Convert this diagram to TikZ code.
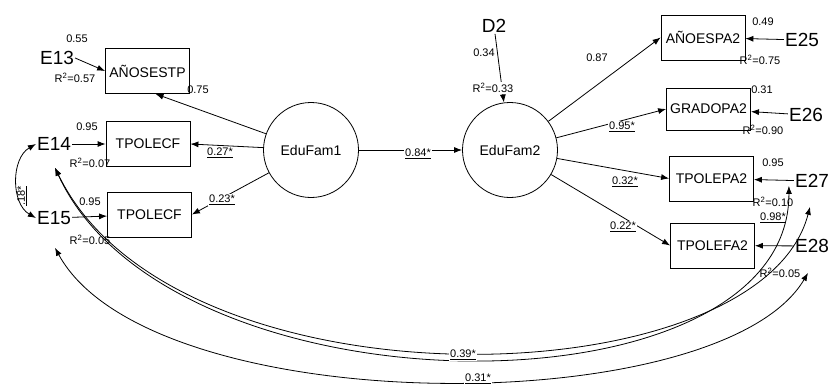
\documentclass[tikz,border=0pt]{standalone}
\usepackage{fontspec}
\setmainfont{Liberation Sans}
\usetikzlibrary{arrows.meta,calc}

\begin{document}
\begin{tikzpicture}[x=1pt, y=-1pt,
    obs/.style={draw, thick, minimum width=84pt, minimum height=45pt, inner sep=1pt, font=\fontsize{14}{15}\selectfont},
    lat/.style={draw, thick, circle, minimum size=95pt, inner sep=0pt, font=\fontsize{14}{15}\selectfont},
    err/.style={inner sep=1pt, font=\fontsize{19}{20}\selectfont},
    coef/.style={inner sep=1pt, font=\fontsize{11}{12}\selectfont},
    load/.style={coef, fill=white},
    arr/.style={thick, -{Latex[length=8pt, width=6pt]}},
    corr/.style={thick, {Latex[length=8pt, width=6pt]}-{Latex[length=8pt, width=6pt]}}]
      \useasboundingbox (0,0) rectangle (833,388);

      % factors
      \node[lat] (edufam1) at (311,150) {EduFam1};
      \node[lat] (edufam2) at (510,150) {EduFam2};

      % indicators of EduFam1
      \node[obs] (anosestp) at (147.5,71) {AÑOSESTP};
      \node[obs] (tpolecf) at (148,144) {TPOLECF};
      \node[obs] (tpolecfb) at (149.5,214.5) {TPOLECF};

      % indicators of EduFam2
      \node[obs] (anoespa2) at (703,37.5) {AÑOESPA2};
      \node[obs, minimum height=42pt] (gradopa2) at (708.5,109) {GRADOPA2};
      \node[obs] (tpolepa2) at (711.5,178.5) {TPOLEPA2};
      \node[obs] (tpolefa2) at (712.5,245.5) {TPOLEFA2};

      % errors and disturbance
      \node[err] (e13) at (57,58) {E13};
      \node[err] (e14) at (54,144) {E14};
      \node[err] (e15) at (54,218) {E15};
      \node[err] (e25) at (802,40) {E25};
      \node[err] (e26) at (806,115) {E26};
      \node[err] (e27) at (812,181) {E27};
      \node[err] (e28) at (812,246) {E28};
      \node[err] (d2) at (494,26) {D2};

      \draw[arr] (e13.east) -- (anosestp.west);
      \draw[arr] (e14) -- (tpolecf);
      \draw[arr] (e15) -- (tpolecfb);
      \draw[arr] (e25) -- (anoespa2);
      \draw[arr] (e26) -- (gradopa2);
      \draw[arr] (e27) -- (tpolepa2);
      \draw[arr] (e28) -- (tpolefa2);
      \draw[arr] (d2) -- (edufam2);

      % loadings
      \draw[arr] (edufam1) -- ($(anosestp.south)+(8,0)$);
      \draw[arr] (edufam1) -- (tpolecf.east);
      \draw[arr] (edufam1) -- (tpolecfb.east);
      \draw[arr] (edufam1) -- (edufam2);
      \draw[arr] (edufam2) -- (anoespa2.west);
      \draw[arr] (edufam2) -- (gradopa2.west);
      \draw[arr] (edufam2) -- (tpolepa2.west);
      \draw[arr] (edufam2) -- (tpolefa2.west);

      % correlated errors
      \draw[corr] (e14.west) to[out=210, in=150] (e15.west);
      \draw[corr] ($(e14.south)+(1,16)$) .. controls (170,420) and (790,420) .. ($(e27.south west)+(-5,-3)$);
      \draw[corr] ($(e14.south)+(1,16)$) .. controls (175,415) and (760,400) .. ($(e27.south)+(-2,18)$);
      \draw[corr] ($(e15.south)+(1,22)$) .. controls (150,422) and (720,422) .. ($(e28.south)+(-4,19)$);

      % coefficients
      \node[coef] at (77,39) {0.55};
      \node[coef] at (75,78) {R\textsuperscript{2}=0.57};
      \node[coef] at (198,90) {0.75};
      \node[coef] at (87,127) {0.95};
      \node[coef] at (90,163) {R\textsuperscript{2}=0.07};
      \node[load] at (220,153) {\underline{0.27*}};
      \node[coef] at (90,202) {0.95};
      \node[coef] at (90,240) {R\textsuperscript{2}=0.05};
      \node[load] at (222,200) {\underline{0.23*}};
      \node[coef, rotate=90] at (22,196) {\underline{.18*}};
      \node[load] at (418,154) {\underline{0.84*}};
      \node[coef] at (484,53) {0.34};
      \node[load] at (493,88) {R\textsuperscript{2}=0.33};
      \node[coef] at (597,58) {0.87};
      \node[load] at (622,127) {\underline{0.95*}};
      \node[load] at (625,182) {\underline{0.32*}};
      \node[load] at (623,227) {\underline{0.22*}};
      \node[coef] at (763,22) {0.49};
      \node[coef] at (760,60) {R\textsuperscript{2}=0.75};
      \node[coef] at (762,90) {0.31};
      \node[coef] at (763,130) {R\textsuperscript{2}=0.90};
      \node[coef] at (773,163) {0.95};
      \node[coef] at (773,202) {R\textsuperscript{2}=0.10};
      \node[coef] at (773,218) {\underline{0.98*}};
      \node[coef] at (780,273) {R\textsuperscript{2}=0.05};
      \node[load] at (463,355) {\underline{0.39*}};
      \node[load] at (478,379) {\underline{0.31*}};
    \end{tikzpicture}
\end{document}
